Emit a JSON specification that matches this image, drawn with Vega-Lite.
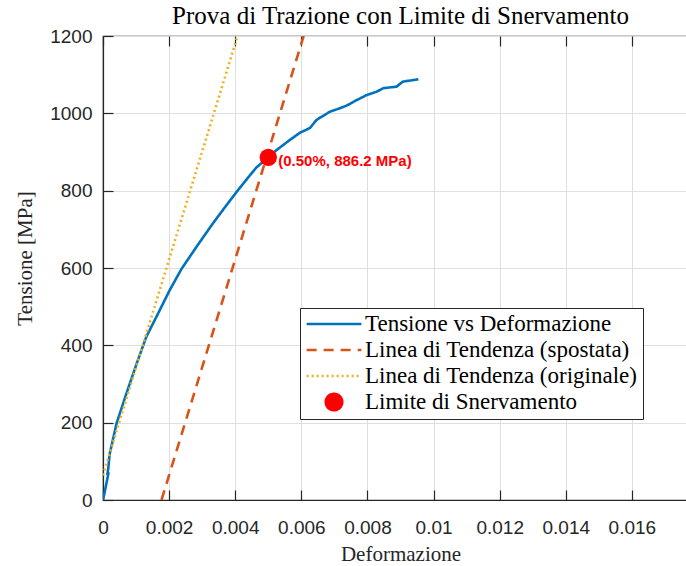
{
  "$schema": "https://vega.github.io/schema/vega-lite/v6.json",
  "width": 595,
  "height": 464,
  "autosize": {"type": "none"},
  "padding": {"left": 103, "top": 36, "right": 0, "bottom": 66},
  "background": "white",
  "title": {
    "text": "Prova di Trazione con Limite di Snervamento",
    "font": "Liberation Serif",
    "fontSize": 25,
    "fontWeight": "normal",
    "color": "#000000",
    "anchor": "middle",
    "offset": -2
  },
  "config": {
    "view": {"stroke": "#262626", "strokeWidth": 1.2},
    "axis": {
      "domainColor": "#262626",
      "domainWidth": 1.2,
      "tickColor": "#262626",
      "tickWidth": 1.2,
      "tickSize": -10,
      "labelFlush": false,
      "gridColor": "#dfdfdf",
      "gridWidth": 1,
      "labelFont": "Liberation Sans",
      "labelFontSize": 19,
      "labelColor": "#262626",
      "titleFont": "Liberation Serif",
      "titleFontSize": 21,
      "titleFontWeight": "normal",
      "titleColor": "#262626"
    }
  },
  "datasets": {
    "curves": [
      {"series": "Tensione vs Deformazione", "ord": 1, "strain": 0, "stress": 0},
      {"series": "Tensione vs Deformazione", "ord": 2, "strain": 0.00005, "stress": 20},
      {"series": "Tensione vs Deformazione", "ord": 3, "strain": 0.00012, "stress": 50},
      {"series": "Tensione vs Deformazione", "ord": 4, "strain": 0.00017, "stress": 72},
      {"series": "Tensione vs Deformazione", "ord": 5, "strain": 0.00013, "stress": 65},
      {"series": "Tensione vs Deformazione", "ord": 6, "strain": 0.00016, "stress": 82},
      {"series": "Tensione vs Deformazione", "ord": 7, "strain": 0.0002, "stress": 118},
      {"series": "Tensione vs Deformazione", "ord": 8, "strain": 0.00041, "stress": 198},
      {"series": "Tensione vs Deformazione", "ord": 9, "strain": 0.00071, "stress": 276},
      {"series": "Tensione vs Deformazione", "ord": 10, "strain": 0.00104, "stress": 358},
      {"series": "Tensione vs Deformazione", "ord": 11, "strain": 0.00131, "stress": 422},
      {"series": "Tensione vs Deformazione", "ord": 12, "strain": 0.00167, "stress": 483},
      {"series": "Tensione vs Deformazione", "ord": 13, "strain": 0.00202, "stress": 543},
      {"series": "Tensione vs Deformazione", "ord": 14, "strain": 0.00237, "stress": 597},
      {"series": "Tensione vs Deformazione", "ord": 15, "strain": 0.00283, "stress": 655},
      {"series": "Tensione vs Deformazione", "ord": 16, "strain": 0.00333, "stress": 716},
      {"series": "Tensione vs Deformazione", "ord": 17, "strain": 0.00374, "stress": 763},
      {"series": "Tensione vs Deformazione", "ord": 18, "strain": 0.00409, "stress": 802},
      {"series": "Tensione vs Deformazione", "ord": 19, "strain": 0.0044, "stress": 835},
      {"series": "Tensione vs Deformazione", "ord": 20, "strain": 0.00464, "stress": 860},
      {"series": "Tensione vs Deformazione", "ord": 21, "strain": 0.005, "stress": 886},
      {"series": "Tensione vs Deformazione", "ord": 22, "strain": 0.00525, "stress": 905},
      {"series": "Tensione vs Deformazione", "ord": 23, "strain": 0.00565, "stress": 931},
      {"series": "Tensione vs Deformazione", "ord": 24, "strain": 0.00596, "stress": 950},
      {"series": "Tensione vs Deformazione", "ord": 25, "strain": 0.00626, "stress": 962},
      {"series": "Tensione vs Deformazione", "ord": 26, "strain": 0.00646, "stress": 983},
      {"series": "Tensione vs Deformazione", "ord": 27, "strain": 0.00686, "stress": 1004},
      {"series": "Tensione vs Deformazione", "ord": 28, "strain": 0.00716, "stress": 1013},
      {"series": "Tensione vs Deformazione", "ord": 29, "strain": 0.00737, "stress": 1020},
      {"series": "Tensione vs Deformazione", "ord": 30, "strain": 0.00767, "stress": 1034},
      {"series": "Tensione vs Deformazione", "ord": 31, "strain": 0.00797, "stress": 1047},
      {"series": "Tensione vs Deformazione", "ord": 32, "strain": 0.00828, "stress": 1056},
      {"series": "Tensione vs Deformazione", "ord": 33, "strain": 0.00848, "stress": 1065},
      {"series": "Tensione vs Deformazione", "ord": 34, "strain": 0.00888, "stress": 1069},
      {"series": "Tensione vs Deformazione", "ord": 35, "strain": 0.00907, "stress": 1082},
      {"series": "Tensione vs Deformazione", "ord": 36, "strain": 0.00954, "stress": 1088},
      {"series": "Linea di Tendenza (spostata)", "ord": 1, "strain": 0.00177, "stress": 0},
      {"series": "Linea di Tendenza (spostata)", "ord": 2, "strain": 0.00607, "stress": 1200},
      {"series": "Linea di Tendenza (originale)", "ord": 1, "strain": 0, "stress": 64},
      {"series": "Linea di Tendenza (originale)", "ord": 2, "strain": 0.00407, "stress": 1200}
    ],
    "yield": [
      {"series": "Limite di Snervamento", "strain": 0.005, "stress": 886.2, "label": "(0.50%, 886.2 MPa)"}
    ]
  },
  "resolve": {"axis": {"x": "independent", "y": "independent"}},
  "layer": [
    {
      "data": {"name": "curves"},
      "mark": {"type": "line", "strokeWidth": 2.6, "clip": true},
      "encoding": {
        "x": {
          "field": "strain", "type": "quantitative",
          "scale": {"domain": [0, 0.018], "nice": false, "zero": false},
          "axis": {
            "orient": "bottom",
            "title": "Deformazione",
            "values": [0, 0.002, 0.004, 0.006, 0.008, 0.01, 0.012, 0.014, 0.016],
            "format": ".3~f",
            "labelPadding": 28,
            "titlePadding": 6,
            "grid": true
          }
        },
        "y": {
          "field": "stress", "type": "quantitative",
          "scale": {"domain": [0, 1200], "nice": false},
          "axis": {
            "orient": "left",
            "title": "Tensione [MPa]",
            "titleY": 222,
            "values": [0, 200, 400, 600, 800, 1000, 1200],
            "format": "d",
            "labelPadding": 21,
            "titlePadding": 14,
            "grid": true
          }
        },
        "order": {"field": "ord", "type": "quantitative"},
        "color": {
          "field": "series", "type": "nominal",
          "scale": {
            "domain": ["Tensione vs Deformazione", "Linea di Tendenza (spostata)", "Linea di Tendenza (originale)", "Limite di Snervamento"],
            "range": ["#0072BD", "#D95319", "#EDB120", "#FF0000"]
          },
          "legend": {
            "orient": "none",
            "legendX": 197,
            "legendY": 272,
            "title": null,
            "fillColor": "white",
            "strokeColor": "#262626",
            "padding": 5,
            "labelFont": "Liberation Serif",
            "labelFontSize": 23,
            "labelColor": "#000000",
            "labelLimit": 0,
            "labelOffset": 2,
            "rowPadding": 3,
            "clipHeight": 22,
            "symbolType": "stroke",
            "symbolSize": 3000,
            "symbolStrokeWidth": 2.6,
            "encode": {
              "symbols": {
                "update": {
                  "shape": {"signal": "datum.value === 'Limite di Snervamento' ? 'M -0.3,0 A 0.3,0.3 0 1,0 0.3,0 A 0.3,0.3 0 1,0 -0.3,0 Z' : 'stroke'"},
                  "size": {"value": 3000},
                  "strokeWidth": {"value": 2.6},
                  "strokeDash": {"signal": "datum.value === 'Linea di Tendenza (spostata)' ? [10, 7] : (datum.value === 'Linea di Tendenza (originale)' ? [2, 3] : [1, 0])"},
                  "fill": {"scale": "color", "field": "value"},
                  "stroke": {"scale": "color", "field": "value"},
                  "opacity": {"value": 1}
                }
              }
            }
          }
        },
        "strokeDash": {
          "field": "series", "type": "nominal",
          "scale": {
            "domain": ["Tensione vs Deformazione", "Linea di Tendenza (spostata)", "Linea di Tendenza (originale)"],
            "range": [[1, 0], [10, 7], [2, 3]]
          },
          "legend": null
        }
      }
    },
    {
      "data": {"name": "yield"},
      "mark": {"type": "point", "filled": true, "size": 300, "opacity": 1},
      "encoding": {
        "x": {"field": "strain", "type": "quantitative", "axis": null},
        "y": {"field": "stress", "type": "quantitative", "axis": null},
        "color": {"field": "series", "type": "nominal"}
      }
    },
    {
      "data": {"name": "yield"},
      "mark": {"type": "text", "align": "left", "baseline": "middle", "dx": 10, "dy": 4, "font": "Liberation Sans", "fontSize": 15, "fontWeight": "bold", "color": "#FF0000"},
      "encoding": {
        "x": {
          "field": "strain", "type": "quantitative",
          "axis": {"orient": "top", "title": null, "labels": false, "grid": false, "domain": false, "values": [0, 0.002, 0.004, 0.006, 0.008, 0.01, 0.012, 0.014, 0.016]}
        },
        "y": {
          "field": "stress", "type": "quantitative",
          "axis": {"orient": "right", "title": null, "labels": false, "grid": false, "domain": false, "values": [0, 200, 400, 600, 800, 1000, 1200]}
        },
        "text": {"field": "label"}
      }
    }
  ]
}
